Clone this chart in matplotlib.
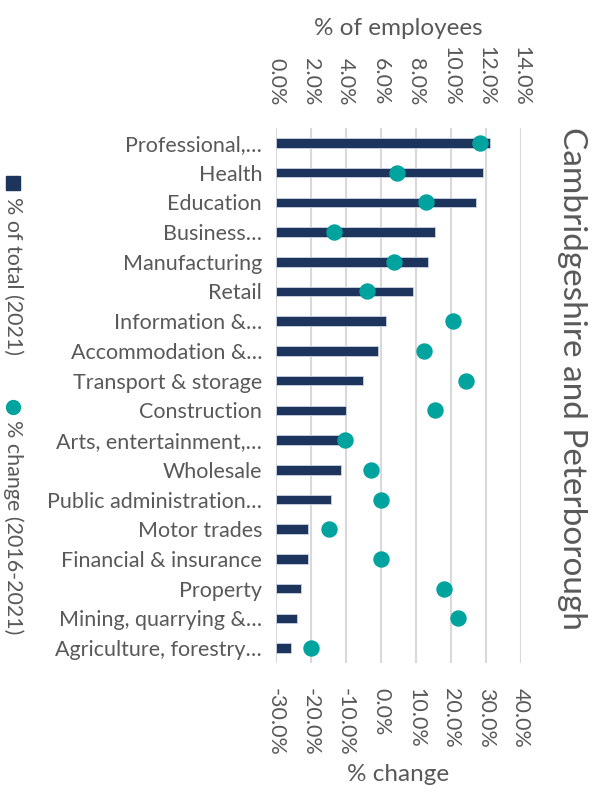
import matplotlib.pyplot as plt
from matplotlib.lines import Line2D
from matplotlib.ticker import PercentFormatter

# data
industries = ['Professional,…', 'Health', 'Education', 'Business…', 'Manufacturing',
              'Retail', 'Information &…', 'Accommodation &…', 'Transport & storage',
              'Construction', 'Arts, entertainment,…', 'Wholesale',
              'Public administration…', 'Motor trades', 'Financial & insurance',
              'Property', 'Mining, quarrying &…', 'Agriculture, forestry…']
share_2021 = [12.2, 11.8, 11.4, 9.1, 8.7, 7.8, 6.3, 5.85, 4.95,
              4.0, 3.8, 3.7, 3.15, 1.85, 1.85, 1.4, 1.2, 0.85]
change_16_21 = [28.3, 4.7, 12.8, -13.5, 3.8, -4.1, 20.7, 12.4, 24.2,
                15.5, -10.3, -3.0, 0.0, -15.0, 0.0, 18.0, 22.1, -20.1]

navy = '#1d355d'
teal = '#00a39e'
grey = '#595959'

plt.rcParams['font.family'] = ['Lato', 'DejaVu Sans']
plt.rcParams['axes.unicode_minus'] = False

fig = plt.figure(figsize=(5.99, 7.94), dpi=100)
ax = fig.add_axes([276 / 599, 1 - 663 / 794, 245 / 599, 535 / 794])
ax2 = ax.twiny()

ypos = list(range(len(industries)))
ax.barh(ypos, share_2021, height=0.32, color=navy, edgecolor='#c9d3e3',
        linewidth=0.6, zorder=2)
ax.set_xlim(0, 14)
ax.set_ylim(len(industries) - 0.5, -0.5)
ax.set_yticks(ypos)
ax.set_yticklabels(industries, fontsize=15.5, color=grey)
ax.tick_params(axis='y', length=0, pad=10)
ax.xaxis.tick_top()
ax.xaxis.set_label_position('top')
ax.set_xticks(range(0, 15, 2))
ax.xaxis.set_major_formatter(PercentFormatter(decimals=1))
ax.tick_params(axis='x', length=0, pad=16, labelsize=15.5, labelcolor=grey,
               labelrotation=270)
ax.set_xlabel('% of employees', fontsize=17.5, color=grey, labelpad=8)
ax.grid(axis='x', color='#d9d9d9', linewidth=1.5, zorder=0)
ax.set_axisbelow(True)
for s in ax.spines.values():
    s.set_visible(False)

ax2.plot(change_16_21, ypos, 'o', color=teal, markersize=10.8, zorder=3)
ax2.set_xlim(-30, 40)
ax2.set_ylim(len(industries) - 0.5, -0.5)
ax2.xaxis.tick_bottom()
ax2.xaxis.set_label_position('bottom')
ax2.set_xticks(range(-30, 41, 10))
ax2.xaxis.set_major_formatter(PercentFormatter(decimals=1))
ax2.tick_params(axis='x', length=0, pad=18, labelsize=15.5, labelcolor=grey,
                labelrotation=270)
ax2.set_xlabel('% change', fontsize=17.5, color=grey, labelpad=6)
for s in ax2.spines.values():
    s.set_visible(False)

# title on the right, rotated
fig.text(572 / 599, 1 - 378 / 794, 'Cambridgeshire and Peterborough', rotation=270,
         fontsize=24, color=grey, ha='center', va='center')

# legend on the left, rotated
fig.add_artist(Line2D([13 / 599], [1 - 183 / 794], marker='s', markersize=9.5,
                      color=navy, transform=fig.transFigure))
fig.text(13 / 599, 1 - 197 / 794, '% of total (2021)', rotation=270, fontsize=15.5,
         color=grey, ha='center', va='top')
fig.add_artist(Line2D([13 / 599], [1 - 407 / 794], marker='o', markersize=10,
                      color=teal, transform=fig.transFigure))
fig.text(13 / 599, 1 - 420 / 794, '% change (2016-2021)', rotation=270, fontsize=15.5,
         color=grey, ha='center', va='top')

fig.savefig('out.png', dpi=100)
